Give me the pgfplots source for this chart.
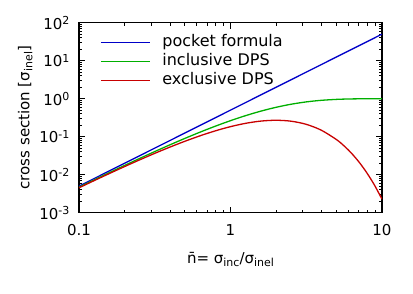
\documentclass[border=0pt]{standalone}
\usepackage{fontspec}
\setmainfont{DejaVu Sans}
\usepackage{pgfplots}
\pgfplotsset{compat=1.18}

\definecolor{pocketblue}{RGB}{0,0,200}
\definecolor{inclgreen}{RGB}{0,175,0}
\definecolor{exclred}{RGB}{200,0,0}

\newcommand\supx[1]{\raisebox{4.7pt}{\fontsize{11}{11}\selectfont #1}}
\newcommand\subx[1]{\raisebox{-3pt}{\fontsize{11}{11}\selectfont #1}}
\newcommand\basefont{\fontsize{15}{18}\selectfont}

% long plain line as legend sample
\pgfplotsset{
  longline legend/.style={
    legend image code/.code={\draw[##1, line width=1.3pt] (0pt,0pt) -- (49pt,0pt);}},
}

\begin{document}
\begin{tikzpicture}
\begin{axis}[
  scale only axis,
  width=303pt, height=190pt,
  xmode=log, ymode=log,
  xmin=0.1, xmax=10, ymin=1e-3, ymax=1e2,
  axis line style={line width=1.1pt},
  tick align=inside,
  major tick length=6pt, minor tick length=3pt,
  every tick/.style={black, line width=0.8pt},
  xtick={0.1,1,10},
  xticklabels={0.1,1,10},
  minor xtick={0.2,0.3,0.4,0.5,0.6,0.7,0.8,0.9,2,3,4,5,6,7,8,9},
  ytick={1e-3,1e-2,1e-1,1,10,100},
  yticklabels={10\supx{-3},10\supx{-2},10\supx{-1},10\supx{0},10\supx{1},10\supx{2}},
  minor ytick={0.002,0.003,0.004,0.005,0.006,0.007,0.008,0.009,
               0.02,0.03,0.04,0.05,0.06,0.07,0.08,0.09,
               0.2,0.3,0.4,0.5,0.6,0.7,0.8,0.9,
               2,3,4,5,6,7,8,9,20,30,40,50,60,70,80,90},
  ticklabel style={font=\basefont},
  xticklabel style={yshift=-8pt},
  yticklabel style={xshift=-6pt},
  label style={font=\basefont},
  xlabel={n̄= σ\subx{inc}/σ\subx{inel}},
  ylabel={cross section [σ\subx{inel}]},
  xlabel style={yshift=-10pt},
  legend cell align=left,
  legend style={draw=none, fill=none, font=\fontsize{16}{18}\selectfont,
    at={(0.069,0.94)}, anchor=north west, inner sep=0pt,
    row sep=3pt,
    nodes={inner sep=1pt, text height=11pt, text depth=3pt},
    /tikz/every odd column/.append style={column sep=11pt}},
  longline legend,
]
% pocket formula: n^2/2
\addplot[pocketblue, line width=1.3pt] coordinates {
  (0.1,0.005) (0.316228,0.05) (1,0.5) (3.162278,5) (10,50)
};
\addlegendentry{pocket formula}
% inclusive DPS: probability of at least two interactions
\addplot[inclgreen, line width=1.3pt, smooth] coordinates {
  (0.1,0.0046792) (0.125893,0.0072898) (0.158489,0.011308) (0.199526,0.0174456)
  (0.251189,0.0267309) (0.316228,0.040612) (0.398107,0.061047) (0.501187,0.090564)
  (0.630957,0.132197) (0.794328,0.189170) (1,0.264241) (1.258925,0.358558)
  (1.584893,0.470174) (1.995262,0.592710) (2.511886,0.715133) (3.162278,0.823815)
  (3.981072,0.907023) (5.011872,0.959971) (5.623413,0.976074) (6.309573,0.986705)
  (7.079458,0.993195) (7.943282,0.996825) (8.912509,0.998665) (10,0.999501)
};
\addlegendentry{inclusive DPS}
% exclusive DPS: probability of exactly two interactions
\addplot[exclred, line width=1.3pt, smooth] coordinates {
  (0.1,0.0045242) (0.125893,0.0069871) (0.158489,0.0107186) (0.199526,0.0163048)
  (0.251189,0.0245403) (0.316228,0.0364447) (0.398107,0.0532199) (0.501187,0.0760862)
  (0.630957,0.105913) (0.794328,0.142560) (1,0.183940) (1.258925,0.225022)
  (1.584893,0.257430) (1.995262,0.270669) (2.511886,0.255901) (3.162278,0.211645)
  (3.981072,0.147918) (5.011872,0.083621) (5.623413,0.057116) (6.309573,0.036204)
  (7.079458,0.021106) (7.943282,0.011201) (8.912509,0.0053495) (10,0.00227)
};
\addlegendentry{exclusive DPS}
\end{axis}
\pgfresetboundingbox
\path (current axis.south west) ++(-79pt,-81.3pt) rectangle ++(413pt,294pt);
\end{tikzpicture}
\end{document}
